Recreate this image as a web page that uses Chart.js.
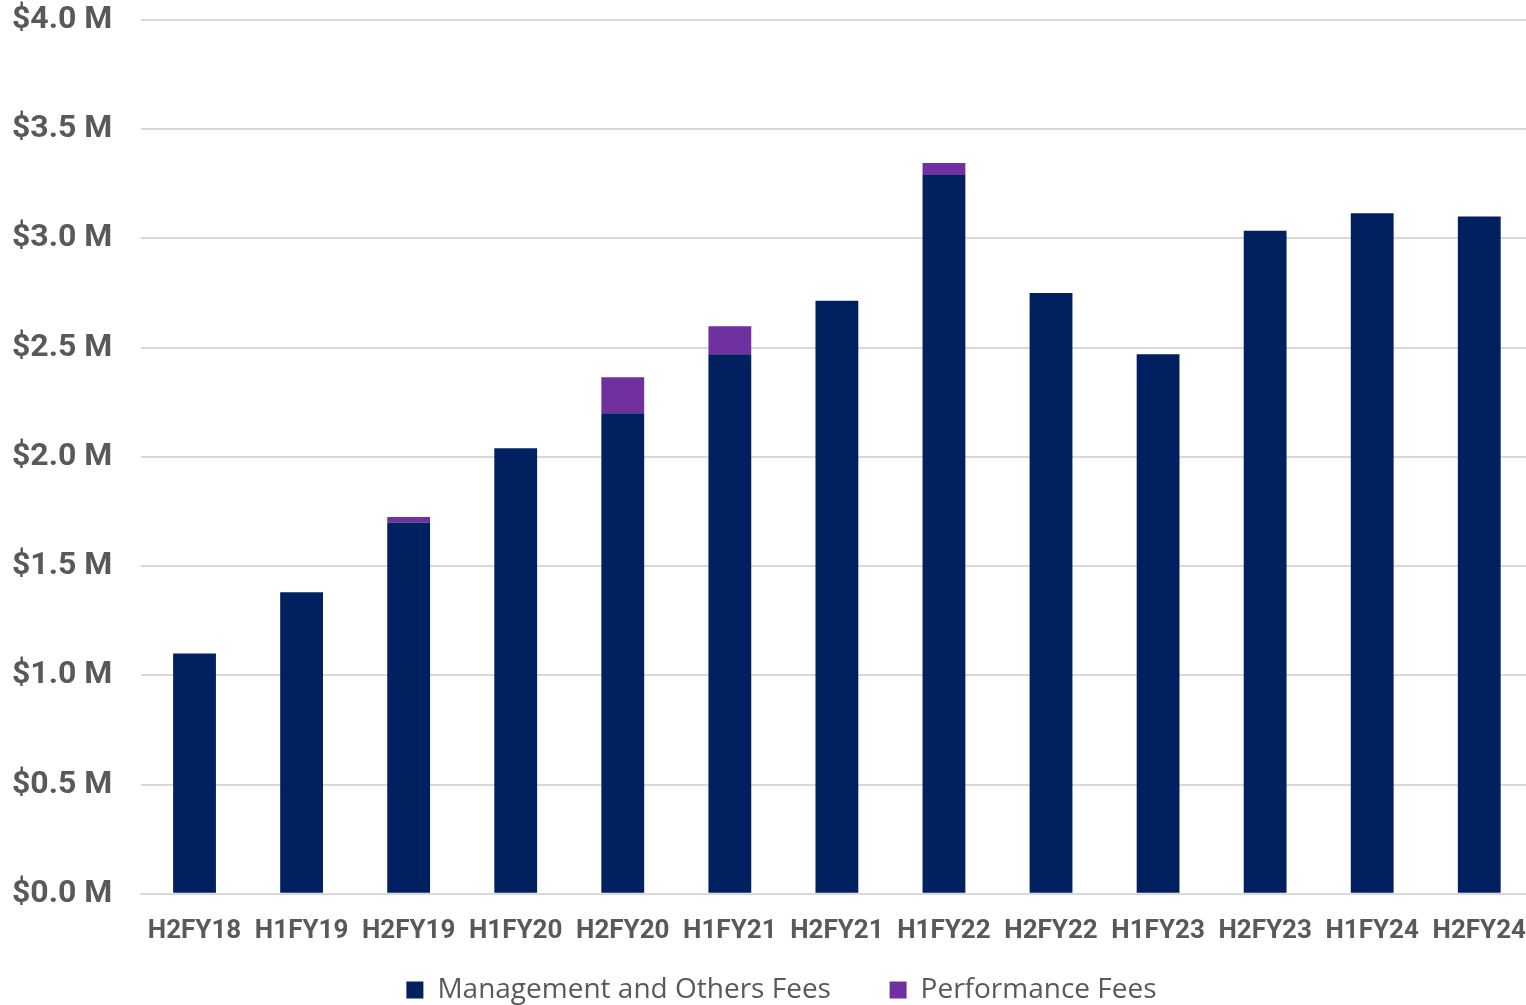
<!DOCTYPE html>
<html>
<head>
<meta charset="utf-8">
<script src="https://cdn.jsdelivr.net/npm/chart.js@4"></script>
<style>
  html, body { margin: 0; padding: 0; background: #fff; overflow: hidden; }
  #wrap { position: relative; width: 1540px; height: 1005px; }
</style>
</head>
<body>
<div id="wrap"><canvas id="c"></canvas></div>
<script>
// Half-year periods
const periods = ['H2FY18','H1FY19','H2FY19','H1FY20','H2FY20','H1FY21','H2FY21','H1FY22','H2FY22','H1FY23','H2FY23','H1FY24','H2FY24'];
// Fee revenue, $ millions
const managementFees = [1.10, 1.38, 1.70, 2.04, 2.20, 2.47, 2.715, 3.29, 2.75, 2.47, 3.035, 3.115, 3.10];
const performanceFees = [0, 0, 0.025, 0, 0.165, 0.128, 0, 0.055, 0, 0, 0, 0, 0];

const grey = '#595959';
const gridGrey = '#d9d9d9';

new Chart(document.getElementById('c'), {
  type: 'bar',
  data: {
    labels: periods,
    datasets: [
      { label: 'Management and Others Fees', data: managementFees, backgroundColor: '#002060' },
      { label: 'Performance Fees', data: performanceFees, backgroundColor: '#7030A0' }
    ]
  },
  options: {
    responsive: true,
    maintainAspectRatio: false,
    animation: false,
    layout: { padding: { top: 20, left: 12, right: -11, bottom: -9 } },
    datasets: { bar: { categoryPercentage: 1.0, barPercentage: 0.4 } },
    plugins: {
      tooltip: { enabled: false },
      legend: {
        position: 'bottom',
        labels: {
          color: grey,
          font: { family: '"Open Sans", sans-serif', size: 28 },
          boxWidth: 17,
          boxHeight: 17,
          padding: 15,
          // wider spacing after the first legend entry
          generateLabels: chart => {
            const items = Chart.defaults.plugins.legend.labels.generateLabels(chart);
            items[0].text = items[0].text + '      ';
            return items;
          }
        }
      }
    },
    scales: {
      x: {
        stacked: true,
        grid: { display: false },
        border: { display: true, color: gridGrey, width: 2 },
        ticks: {
          color: grey,
          font: { family: 'Roboto', size: 26, weight: 'bold' },
          maxRotation: 0,
          autoSkip: false,
          padding: 14
        }
      },
      y: {
        stacked: true,
        min: 0,
        max: 4,
        afterFit: scale => { scale.width = 129; },
        grid: { color: gridGrey, lineWidth: 2, drawTicks: false },
        border: { display: false },
        ticks: {
          stepSize: 0.5,
          color: grey,
          crossAlign: 'far',
          font: { family: 'Roboto', size: 32, weight: 'bold' },
          padding: 0,
          callback: v => '$' + v.toFixed(1) + ' M'
        }
      }
    }
  }
});
</script>
</body>
</html>
